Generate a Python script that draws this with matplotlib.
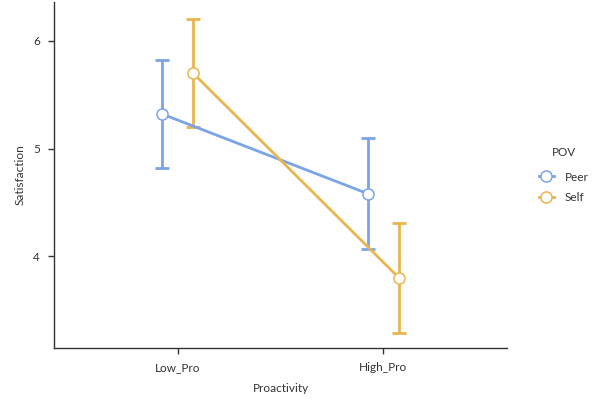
import matplotlib
matplotlib.use("Agg")
import matplotlib.pyplot as plt
import numpy as np
from matplotlib.lines import Line2D

categories = ["Low_Pro", "High_Pro"]
groups = ["Peer", "Self"]
means = {"Peer": [5.32, 4.58], "Self": [5.70, 3.80]}
lower = {"Peer": [4.82, 4.07], "Self": [5.20, 3.29]}
upper = {"Peer": [5.82, 5.10], "Self": [6.20, 4.31]}
colors = {"Peer": "#7BA3E8", "Self": "#E8B54E"}
offsets = {"Peer": -0.075, "Self": 0.075}

plt.rcParams['font.family'] = ['Lato', 'DejaVu Sans']
fig = plt.figure(figsize=(6.01, 4.01), dpi=100)
W, H = 601, 401
ax = fig.add_axes([54 / W, (H - 348) / H, (507 - 54) / W, (348 - 2) / H])

x = np.arange(len(categories))
for g in groups:
    xs = x + offsets[g]
    m = np.array(means[g])
    lo = m - np.array(lower[g])
    hi = np.array(upper[g]) - m
    ax.errorbar(xs, m, yerr=[lo, hi], color=colors[g], lw=2, capsize=5,
                capthick=2, elinewidth=2, zorder=2)
    ax.plot(xs, m, 'o', ms=8, mfc='white', mec=colors[g], mew=1.1, zorder=3)

ax.set_xlim(-0.6, 1.6)
ax.set_ylim(3.148, 6.36)
ax.set_xticks(x)
ax.set_xticklabels(categories)
ax.set_yticks([4, 5, 6])
ax.set_yticklabels(["4", "5", "6"])
for s in ["top", "right"]:
    ax.spines[s].set_visible(False)
for s in ["left", "bottom"]:
    ax.spines[s].set_color("#333333")
    ax.spines[s].set_linewidth(1.0)
ax.tick_params(axis='both', length=4, width=1, color="#333333", labelsize=8.5,
               labelcolor="#333333", pad=6)
ax.set_xlabel("Proactivity", fontsize=8.5, color="#333333", labelpad=7.5)
ax.set_ylabel("Satisfaction", fontsize=8.5, color="#333333", labelpad=5.5)

handles = [Line2D([0], [0], color=colors[g], lw=2, marker='o', ms=8, mfc='white',
                  mec=colors[g], mew=1.1) for g in groups]
leg = fig.legend(handles, groups, title="POV", loc='upper left',
                 bbox_to_anchor=(528 / W, 1 - 136 / H), frameon=False,
                 fontsize=8.5, title_fontsize=8.5, handlelength=1.3,
                 labelspacing=0.8, handletextpad=0.9)
leg.get_title().set_color("#333333")
leg._legend_box.sep = 10
for t in leg.get_texts():
    t.set_color("#333333")

fig.savefig("out.png", dpi=100)
